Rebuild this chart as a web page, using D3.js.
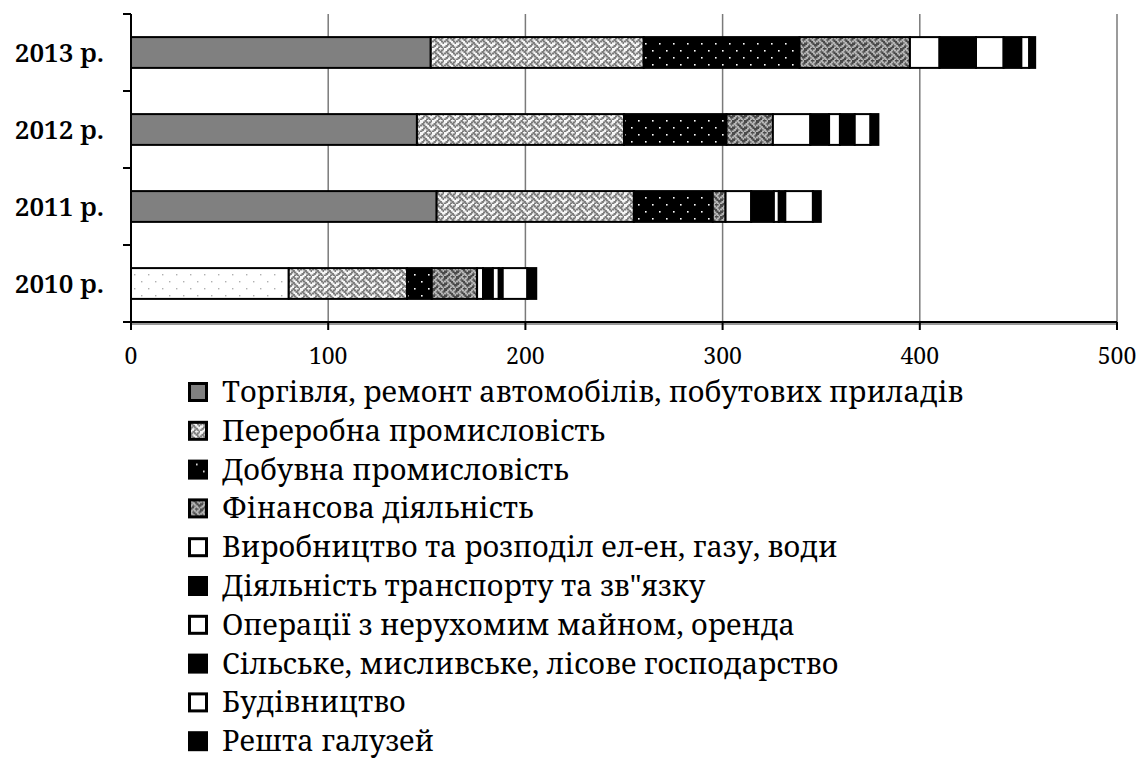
<!DOCTYPE html>
<meta charset="utf-8">
<style>
  body { margin: 0; padding: 0; background: white; }
  svg { display: block; background: white; }
</style>
<script src="https://cdn.jsdelivr.net/npm/d3@7"></script>
<svg id="chart"></svg>
<script>

var width = 1147, height = 762;
var serif = "'Noto Serif', 'Liberation Serif', serif";

// categories, top to bottom
const years = ["2013 р.", "2012 р.", "2011 р.", "2010 р."];
const sectors = [
  "Торгівля, ремонт автомобілів, побутових приладів",
  "Переробна промисловість",
  "Добувна промисловість",
  "Фінансова діяльність",
  "Виробництво та розподіл ел-ен, газу, води",
  "Діяльність транспорту та зв\"язку",
  "Операції з нерухомим майном, оренда",
  "Сільське, мисливське, лісове господарство",
  "Будівництво",
  "Решта галузей"
];
// values per year, same order as sectors
const v2013 = [152, 108, 79, 56, 15, 18.5, 14, 9, 4, 3];
const v2012 = [145, 105, 52, 23.5, 19, 9.5, 5.5, 7.5, 8, 4];
const v2011 = [155, 100, 40, 6.5, 13, 11.5, 2.5, 3.3, 14, 4];
const v2010 = [80, 60, 12.5, 23, 3, 5, 3, 2, 12.5, 4.5];
const xTicks = [0, 100, 200, 300, 400, 500];

const fills = ["#808080", "url(#weaveLight)", "url(#dotsDark)", "url(#weaveDark)",
               "#fff", "#000", "#fff", "#000", "#fff", "#000"];

var svg = d3.select("#chart").attr("width", width).attr("height", height);

// patterns
var defs = svg.append("defs");
// weave bitmap, 8x8
var weaveBits = [0x11, 0x2a, 0x44, 0xa2, 0x11, 0x28, 0x44, 0x8a];
function weave(id, bg, fg) {
  var c = 1.5;
  var p = defs.append("pattern").attr("id", id).attr("patternUnits", "userSpaceOnUse")
    .attr("width", 8 * c).attr("height", 8 * c);
  p.append("rect").attr("width", 8 * c).attr("height", 8 * c).attr("fill", bg);
  weaveBits.forEach((row, r) => {
    for (var b = 0; b < 8; b++) {
      if (row & (0x80 >> b))
        p.append("rect").attr("x", b * c).attr("y", r * c).attr("width", c * 1.6).attr("height", c * 1.3).attr("fill", fg);
    }
  });
}
weave("weaveLight", "#f6f6f6", "#7a7a7a");
weave("weaveDark", "#4a4a4a", "#b8b8b8");

function dots(id, bg, fg, s, r) {
  var p = defs.append("pattern").attr("id", id).attr("patternUnits", "userSpaceOnUse")
    .attr("width", s).attr("height", s);
  p.append("rect").attr("width", s).attr("height", s).attr("fill", bg);
  p.append("rect").attr("x", 1).attr("y", 1).attr("width", r).attr("height", r).attr("fill", fg);
  p.append("rect").attr("x", s / 2 + 1).attr("y", s / 2 + 1).attr("width", r).attr("height", r).attr("fill", fg);
}
dots("dotsDark", "#000", "#fff", 14, 1.6);
dots("dotsLight", "#fff", "#b0b0b0", 14, 1.4);

var x = d3.scaleLinear().domain([0, 500]).range([131, 1117]);
var y = d3.scaleBand().domain(years).range([14, 322])
  .paddingInner(0.6).paddingOuter(0.3);
var [y0, y1] = y.range();

// gridlines
svg.append("g").selectAll("line").data(xTicks.slice(1)).enter().append("line")
  .attr("x1", d => x(d)).attr("x2", d => x(d))
  .attr("y1", y0).attr("y2", y1)
  .attr("stroke", "#7a7a7a").attr("stroke-width", 1.5);

// stacked bars
const table = years.map((yr, i) => {
  var o = {year: yr};
  var vals = [v2013, v2012, v2011, v2010][i];
  sectors.forEach((s, j) => o[s] = vals[j]);
  return o;
});
var series = d3.stack().keys(sectors)(table);

svg.append("g").selectAll("g").data(series).enter().append("g")
  .each(function(s, k) {
    d3.select(this).selectAll("rect").data(s).enter().append("rect")
      .attr("x", d => x(d[0]))
      .attr("width", d => x(d[1]) - x(d[0]))
      .attr("y", d => y(d.data.year))
      .attr("height", y.bandwidth())
      // the 2010 trade segment is drawn with a light dotted fill in the original
      .attr("fill", d => (k === 0 && d.data.year === "2010 р.") ? "url(#dotsLight)" : fills[k])
      .attr("stroke", "#000").attr("stroke-width", 2);
  });

// y axis
var yAxis = svg.append("g");
yAxis.append("line").attr("x1", x(0)).attr("x2", x(0)).attr("y1", y0).attr("y2", y1)
  .attr("stroke", "#000").attr("stroke-width", 2);
var yBounds = d3.range(years.length + 1).map(i => y0 + i * y.step());
yAxis.selectAll("line.tk").data(yBounds).enter().append("line").attr("class", "tk")
  .attr("x1", x(0) - 8).attr("x2", x(0)).attr("y1", d => d).attr("y2", d => d)
  .attr("stroke", "#000").attr("stroke-width", 2);
yAxis.selectAll("text").data(years).enter().append("text")
  .attr("x", 104).attr("y", d => y(d) + y.bandwidth() / 2)
  .attr("dy", "0.35em").attr("text-anchor", "end")
  .style("font-family", serif).style("font-weight", 600)
  .attr("font-size", 26).text(d => d);

// x axis
var xAxis = svg.append("g");
xAxis.append("line").attr("x1", x(0)).attr("x2", x(500)).attr("y1", y1 + 2).attr("y2", y1 + 2)
  .attr("stroke", "#999").attr("stroke-width", 2);
xAxis.append("line").attr("x1", x(0)).attr("x2", x(500)).attr("y1", y1).attr("y2", y1)
  .attr("stroke", "#000").attr("stroke-width", 2);
xAxis.selectAll("line.tk").data(xTicks).enter().append("line").attr("class", "tk")
  .attr("x1", d => x(d)).attr("x2", d => x(d)).attr("y1", y1).attr("y2", y1 + 8)
  .attr("stroke", "#000").attr("stroke-width", 2);
xAxis.selectAll("text").data(xTicks).enter().append("text")
  .attr("x", d => x(d)).attr("y", 356).attr("dy", "0.35em")
  .attr("text-anchor", "middle").style("font-family", serif)
  .attr("font-size", 23).text(d => d);

// legend
var legend = svg.append("g").attr("transform", "translate(188,392)");
var row = legend.selectAll("g").data(sectors).enter().append("g")
  .attr("transform", (d, i) => "translate(0," + (i * 38.8) + ")");
row.append("rect").attr("x", 1.5).attr("y", -8.5).attr("width", 17).attr("height", 17)
  .attr("fill", (d, i) => fills[i]).attr("stroke", "#000").attr("stroke-width", 3);
row.append("text").attr("x", 34).attr("dy", "0.35em")
  .style("font-family", serif).attr("font-size", 28.8).text(d => d);

</script>
